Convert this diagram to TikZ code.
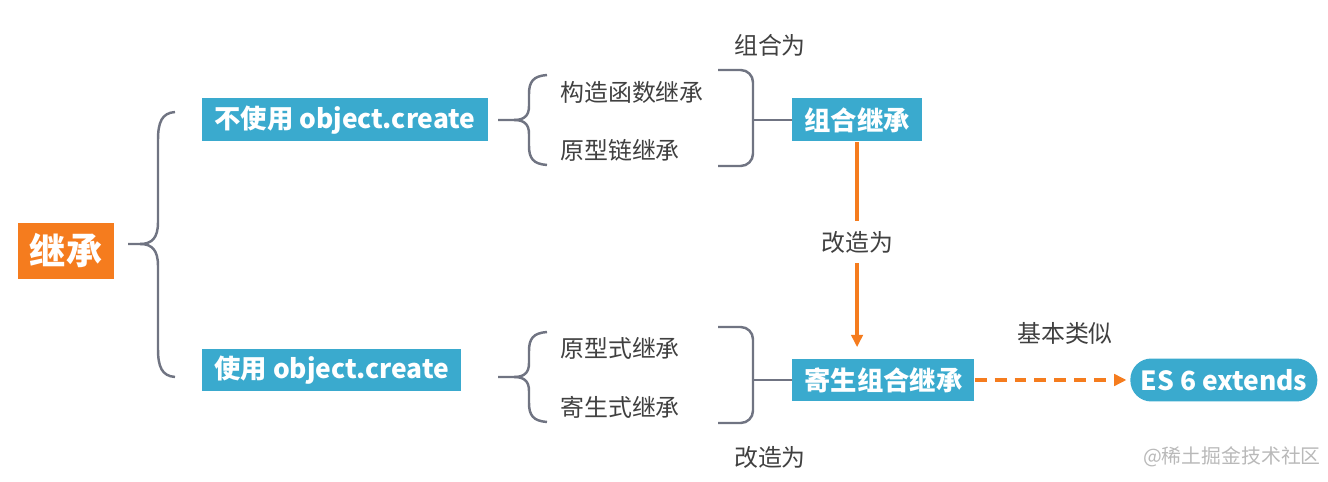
\documentclass[tikz,border=0pt]{standalone}
\usepackage{fontspec}
\setmainfont{Noto Sans CJK SC}
\usetikzlibrary{arrows.meta,positioning}
\definecolor{jsblue}{RGB}{58,170,206}
\definecolor{jsorange}{RGB}{245,124,30}
\definecolor{jsgray}{RGB}{112,116,130}
\definecolor{jstext}{RGB}{64,64,64}
\definecolor{jsmark}{RGB}{185,185,185}
\tikzset{
  bluebox/.style={fill=jsblue, text=white, font=\bfseries\fontsize{15}{18}\selectfont,
    minimum height=0.86cm, inner xsep=0.24cm, inner ysep=0pt, anchor=west},
  leaf/.style={text=jstext, font=\fontsize{13.6}{16}\selectfont, inner sep=0pt, anchor=west},
  note/.style={text=jstext, font=\fontsize{13.6}{16}\selectfont, inner sep=1pt},
  bracket/.style={jsgray, line width=1.4pt},
  flow/.style={jsorange, line width=1.8pt, -{Triangle[length=7pt,width=6.5pt]}},
}
\begin{document}
\begin{tikzpicture}[x=0.02cm,y=-0.02cm]
  \useasboundingbox (0,0) rectangle (1328,482);
  % root
  \node[fill=jsorange, text=white, font=\bfseries\fontsize{20.5}{24}\selectfont,
    minimum width=1.92cm, minimum height=1.12cm, inner sep=0pt] (root) at (66,251) {继承};
  % big brace
  \draw[bracket] (175,112) .. controls (162,113) and (158,122) .. (158,140) -- (158,222)
    .. controls (158,238) and (152,244) .. (140,244) -- (128,244);
  \draw[bracket] (140,244) .. controls (152,244) and (158,250) .. (158,266) -- (158,349)
    .. controls (158,367) and (162,376) .. (175,377);
  % two ways
  \node[bluebox] (nouse) at (202,120) {不使用 object.create};
  \node[bluebox] (use) at (202,370) {使用 object.create};
  % small braces and brackets
  \foreach \dy in {0,257} {
    \begin{scope}[shift={(0,\dy)}]
      \draw[bracket] (547,75) .. controls (533,76) and (529,82) .. (529,94) -- (529,106)
        .. controls (529,116) and (524,120) .. (514,120) -- (498,120);
      \draw[bracket] (514,120) .. controls (524,120) and (529,124) .. (529,134) -- (529,146)
        .. controls (529,158) and (533,164) .. (547,165);
      \draw[bracket, rounded corners=7pt] (718,70) -- (753,70) -- (753,166) -- (718,166);
    \end{scope}
  }
  \coordinate (mergeA) at (753,119);
  \coordinate (mergeB) at (753,377);
  % leaves
  \node[leaf] (ctor) at (560,92) {构造函数继承};
  \node[leaf] (chain) at (560,150) {原型链继承};
  \node[leaf] (proto) at (560,348) {原型式继承};
  \node[leaf] (parasite) at (560,407) {寄生式继承};
  % results
  \node[bluebox] (comb) at (792,120) {组合继承};
  \node[bluebox] (para) at (792,380) {寄生组合继承};
  \node[bluebox, rounded corners=0.42cm, minimum width=3.74cm, inner xsep=0pt] (es6) at (1130,380) {ES 6 extends};
  \draw[bracket] (comb.west) -- (comb.west -| mergeA);
  \draw[bracket] (para.west) -- (para.west -| mergeB);
  % notes
  \node[note] (combnote) at (770,45) {组合为};
  \node[note] (reworknote) at (770,457) {改造为};
  \node[note] (likenote) at (1065,333) {基本类似};
  % arrows
  \draw[flow, shorten >=0.22cm] (comb.south) -- node[note, fill=white, inner ysep=0.2cm, pos=0.465] (rework) {改造为}
    (comb.south |- para.north);
  \draw[flow, dash pattern=on 6.8pt off 4.5pt, shorten >=2pt] (para.east) -- (es6.west);
  % watermark
  \node[text=jsmark, font=\fontsize{11.3}{13}\selectfont, inner sep=0pt] (mark) at (1232,457) {@稀土掘金技术社区};
\end{tikzpicture}
\end{document}
